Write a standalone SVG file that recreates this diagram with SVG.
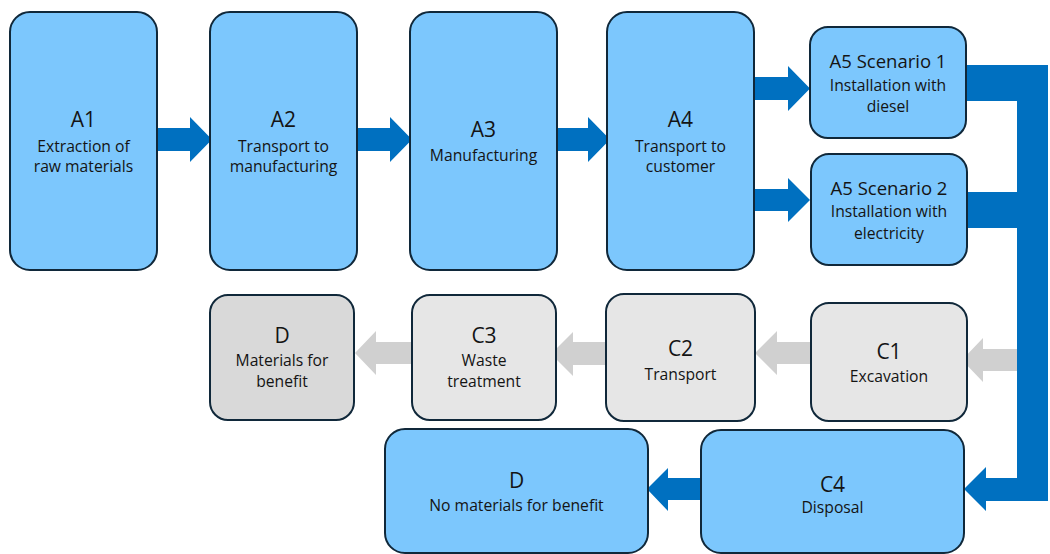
<svg xmlns="http://www.w3.org/2000/svg" width="1050" height="554" viewBox="0 0 1050 554">
<style>
.blue{fill:#7cc7fd;stroke:#10283a;stroke-width:2}
.gray{fill:#e6e6e6;stroke:#10283a;stroke-width:2}
.dgray{fill:#d9d9d9;stroke:#10283a;stroke-width:2}
.ab{fill:#0070c0}
.ag{fill:#d0d0d0}
text{font-family:"Open Sans","Liberation Sans",sans-serif;fill:#141414;text-anchor:middle}
.t{font-size:21px}
.s{font-size:15.7px}
.t5{font-size:18.5px}
</style>
<rect width="1050" height="554" fill="#ffffff"/>
<g id="connectors">
<polygon class="ab" points="157,128 190,128 190,117 212,139.5 190,162 190,151 157,151"/>
<polygon class="ab" points="357,128 390,128 390,117 412,139.5 390,162 390,151 357,151"/>
<polygon class="ab" points="557,128 588,128 588,117 610,139.5 588,162 588,151 557,151"/>
<polygon class="ab" points="755,77 788,77 788,66 810,88.5 788,111 788,100 755,100"/>
<polygon class="ab" points="755,189 788,189 788,178 810,200 788,222 788,211 755,211"/>
<rect class="ab" x="966" y="65" width="82" height="36"/>
<rect class="ab" x="966" y="192" width="82" height="36"/>
<rect class="ab" x="1017" y="65" width="31" height="436"/>
<polygon class="ab" points="1018,478 986,478 986,467 964,489 986,511 986,501 1018,501"/>
<polygon class="ag" points="1017,349 983,349 983,338 962,360 983,382 983,371 1017,371"/>
<polygon class="ag" points="811,342 777,342 777,331 755,353 777,375 777,364 811,364"/>
<polygon class="ag" points="606,342 573,342 573,332 551,354 573,376 573,365 606,365"/>
<polygon class="ag" points="412,342 376,342 376,331 355,353 376,375 376,364 412,364"/>
<polygon class="ab" points="701,478 668,478 668,468 647,489 668,511 668,500 701,500"/>
</g>
<g id="A1"><rect class="blue" x="10" y="12" width="147" height="258" rx="20"/>
<text class="t" x="83.5" y="127">A1</text><text class="s" x="83.5" y="152">Extraction of</text><text class="s" x="83.5" y="172">raw materials</text></g>
<g id="A2"><rect class="blue" x="210" y="12" width="147" height="258" rx="20"/>
<text class="t" x="283.5" y="127">A2</text><text class="s" x="283.5" y="152">Transport to</text><text class="s" x="283.5" y="172">manufacturing</text></g>
<g id="A3"><rect class="blue" x="410" y="12" width="147" height="258" rx="20"/>
<text class="t" x="483.5" y="137">A3</text><text class="s" x="483.5" y="161">Manufacturing</text></g>
<g id="A4"><rect class="blue" x="607" y="12" width="147" height="258" rx="20"/>
<text class="t" x="680.5" y="127">A4</text><text class="s" x="680.5" y="152">Transport to</text><text class="s" x="680.5" y="172">customer</text></g>
<g id="A5-1"><rect class="blue" x="810" y="27" width="156" height="111" rx="18"/>
<text class="t5" x="888" y="68">A5 Scenario 1</text><text class="s" x="888" y="91">Installation with</text><text class="s" x="888" y="112">diesel</text></g>
<g id="A5-2"><rect class="blue" x="811" y="154" width="156" height="111" rx="18"/>
<text class="t5" x="889" y="195">A5 Scenario 2</text><text class="s" x="889" y="217">Installation with</text><text class="s" x="889" y="239">electricity</text></g>
<g id="C1"><rect class="gray" x="811" y="303" width="156" height="118" rx="18"/>
<text class="t" x="889" y="359">C1</text><text class="s" x="889" y="382">Excavation</text></g>
<g id="C2"><rect class="gray" x="606" y="294" width="149" height="127" rx="18"/>
<text class="t" x="680.5" y="356">C2</text><text class="s" x="680.5" y="380">Transport</text></g>
<g id="C3"><rect class="gray" x="412" y="295" width="144" height="125" rx="18"/>
<text class="t" x="484" y="343">C3</text><text class="s" x="484" y="366">Waste</text><text class="s" x="484" y="387">treatment</text></g>
<g id="D-materials"><rect class="dgray" x="210" y="295" width="144" height="125" rx="18"/>
<text class="t" x="282" y="343">D</text><text class="s" x="282" y="366">Materials for</text><text class="s" x="282" y="387">benefit</text></g>
<g id="C4"><rect class="blue" x="701" y="430" width="263" height="123" rx="20"/>
<text class="t" x="832.5" y="492">C4</text><text class="s" x="832.5" y="513">Disposal</text></g>
<g id="D-none"><rect class="blue" x="385" y="429" width="263" height="124" rx="20"/>
<text class="t" x="516.5" y="488">D</text><text class="s" x="516.5" y="511">No materials for benefit</text></g>
</svg>
